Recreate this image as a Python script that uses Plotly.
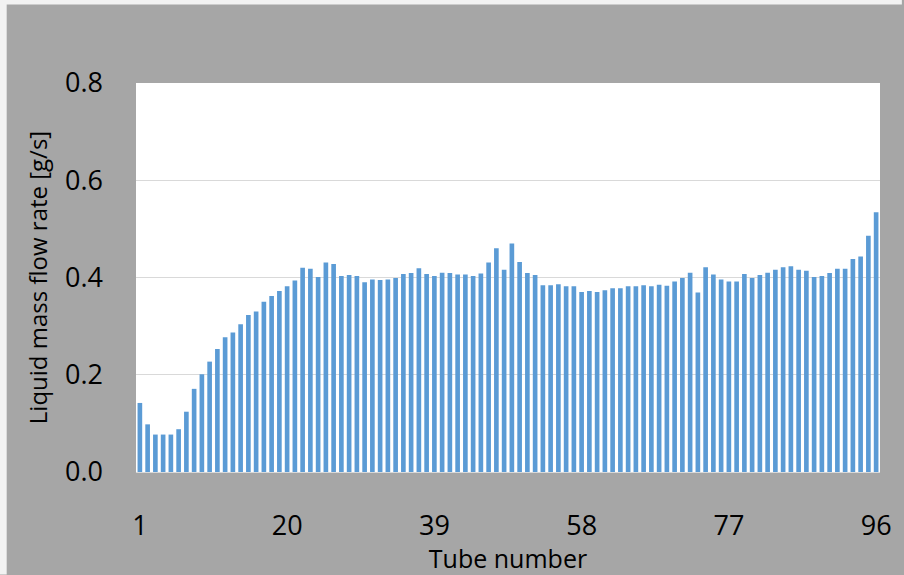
import plotly.graph_objects as go

tubes = list(range(1, 97))
flow_rate = [
    0.142, 0.098, 0.077, 0.077, 0.077, 0.088, 0.124, 0.171, 0.201, 0.227,
    0.253, 0.277, 0.287, 0.304, 0.323, 0.330, 0.350, 0.362, 0.372, 0.382,
    0.394, 0.420, 0.418, 0.401, 0.431, 0.428, 0.403, 0.405, 0.403, 0.390,
    0.396, 0.395, 0.396, 0.399, 0.407, 0.409, 0.419, 0.407, 0.403, 0.410,
    0.409, 0.406, 0.406, 0.403, 0.408, 0.431, 0.460, 0.416, 0.470, 0.432,
    0.409, 0.405, 0.384, 0.384, 0.386, 0.382, 0.382, 0.370, 0.372, 0.370,
    0.374, 0.378, 0.378, 0.382, 0.382, 0.384, 0.382, 0.385, 0.383, 0.392,
    0.399, 0.410, 0.369, 0.421, 0.406, 0.396, 0.392, 0.392, 0.407, 0.399,
    0.405, 0.410, 0.416, 0.421, 0.423, 0.416, 0.414, 0.401, 0.403, 0.409,
    0.418, 0.418, 0.438, 0.443, 0.486, 0.534,
]
x_ticks = [1, 20, 39, 58, 77, 96]
y_ticks = [0.0, 0.2, 0.4, 0.6, 0.8]
y_tick_text = ["0.0", "0.2", "0.4", "0.6", "0.8"]

W, H = 904, 575
L, R, T, B = 136, 20, 83, 101
pw, ph = W - L - R, H - T - B

def px_x(p):
    return (p - L) / pw

def px_y(p):
    return (H - B - p) / ph

fig = go.Figure()
fig.add_trace(go.Bar(x=tubes, y=flow_rate, marker_color="#5b9bd5",
                     marker_line_width=0))

FONT = "Open Sans"
fig.update_layout(
    width=W, height=H,
    margin=dict(l=L, r=R, t=T, b=B),
    paper_bgcolor="#a6a6a6",
    plot_bgcolor="#ffffff",
    bargap=0.4,
    showlegend=False,
    font=dict(family=FONT, color="#000000"),
    shapes=[
        dict(type="rect", xref="paper", yref="paper",
             x0=px_x(-2), x1=px_x(W + 2), y0=px_y(4), y1=px_y(-2),
             fillcolor="#f2f2f2", line_width=0, layer="above"),
        dict(type="rect", xref="paper", yref="paper",
             x0=px_x(-2), x1=px_x(6), y0=px_y(H + 2), y1=px_y(-2),
             fillcolor="#f2f2f2", line_width=0, layer="above"),
    ],
)
fig.update_xaxes(
    range=[0.5, 96.5], tickvals=x_ticks, ticktext=[str(v) for v in x_ticks],
    showgrid=False, showline=True, linecolor="#d9d9d9", linewidth=1,
    ticks="", ticklabelstandoff=30,
    tickfont=dict(size=27, family=FONT),
    title=dict(text="Tube number", font=dict(size=25, family=FONT), standoff=2),
)
fig.update_yaxes(
    range=[0, 0.8], tickvals=y_ticks, ticktext=y_tick_text,
    showgrid=True, gridcolor="#d9d9d9", gridwidth=1, zeroline=False,
    showline=False, ticks="", ticklabelstandoff=32,
    tickfont=dict(size=27, family=FONT),
    title=dict(text="Liquid mass flow rate [g/s]", font=dict(size=24, family=FONT), standoff=10),
)
fig.write_html("out.html", config={"displayModeBar": False},
               post_script="document.body.style.margin='0';document.body.style.overflow='hidden';")
